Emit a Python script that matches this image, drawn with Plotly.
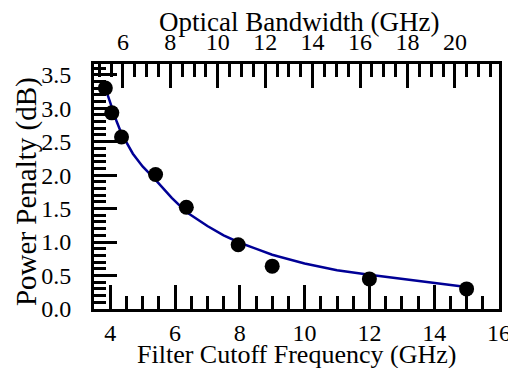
import plotly.graph_objects as go

# Measured data points
cutoff_ghz = [3.85, 4.05, 4.35, 5.4, 6.35, 7.95, 9.0, 12.0, 15.0]
penalty_db = [3.30, 2.93, 2.57, 2.01, 1.52, 0.96, 0.64, 0.45, 0.30]

# Fitted curve
fit_x = [3.85, 4.0, 4.2, 4.35, 4.7, 5.0, 5.4, 5.9, 6.35, 7.0, 7.5, 8.0, 9.0, 10.0, 11.0, 12.0, 13.0, 14.0, 15.0]
fit_y = [3.30, 3.08, 2.80, 2.62, 2.32, 2.13, 1.93, 1.66, 1.45, 1.24, 1.10, 0.99, 0.81, 0.68, 0.58, 0.51, 0.45, 0.38, 0.33]

bottom_ticks = [4, 6, 8, 10, 12, 14, 16]
top_ticks = [6, 8, 10, 12, 14, 16, 18, 20]
y_ticks = [0.0, 0.5, 1.0, 1.5, 2.0, 2.5, 3.0, 3.5]

FONT = "Liberation Serif, Times New Roman, DejaVu Serif, serif"
TICK_SIZE = 24

fig = go.Figure()
fig.add_trace(go.Scatter(x=fit_x, y=fit_y, mode="lines",
                         line=dict(color="rgb(0,0,150)", width=2.5),
                         showlegend=False, hoverinfo="skip"))
fig.add_trace(go.Scatter(x=cutoff_ghz, y=penalty_db, mode="markers",
                         marker=dict(color="black", size=15),
                         showlegend=False))
# invisible trace to activate top axis
fig.add_trace(go.Scatter(x=[10], y=[1], xaxis="x2", mode="markers",
                         marker=dict(opacity=0), showlegend=False, hoverinfo="skip"))

axis_common = dict(showgrid=False, zeroline=False, showline=True, linecolor="black",
                   linewidth=3, ticks="inside", tickcolor="black", tickwidth=2.5,
                   ticklen=24, automargin=False,
                   tickfont=dict(family=FONT, size=TICK_SIZE, color="black"))

# page body has an 8px default margin, so the figure is sized to fit the window
fig.update_layout(
    width=508, height=360,
    margin=dict(l=86, r=17, t=56, b=59),
    paper_bgcolor="white", plot_bgcolor="white",
    font=dict(family=FONT),
    xaxis=dict(**axis_common, range=[3.5, 16], tickvals=bottom_ticks,
               ticktext=[str(v) for v in bottom_ticks],
               minor=dict(dtick=0.5, tick0=4, ticks="inside", ticklen=13,
                          tickwidth=2.5, tickcolor="black"),
               ticklabelstandoff=0),
    xaxis2=dict(**axis_common, range=[4.78, 21.86], overlaying="x", side="top",
                tickvals=top_ticks, ticktext=[str(v) for v in top_ticks],
                minor=dict(dtick=0.5, tick0=6, ticks="inside", ticklen=13,
                           tickwidth=2.5, tickcolor="black"),
                ticklabelstandoff=1),
    yaxis=dict(**axis_common, range=[0, 3.66], tickvals=y_ticks,
               ticktext=[f"{v:.1f}" for v in y_ticks], mirror=True,
               minor=dict(dtick=0.1, tick0=0, ticks="inside", ticklen=12,
                          tickwidth=2.5, tickcolor="black"),
               ticklabelstandoff=15),
    annotations=[
        dict(text="Filter Cutoff Frequency (GHz)", xref="paper", yref="paper",
             x=0.5, y=-0.186, xanchor="center", yanchor="middle",
             showarrow=False, font=dict(family=FONT, size=26, color="black")),
        dict(text="Optical Bandwidth (GHz)", xref="paper", yref="paper",
             x=0.505, y=1.171, xanchor="center", yanchor="middle",
             showarrow=False, font=dict(family=FONT, size=27, color="black")),
        dict(text="Power Penalty (dB)", xref="paper", yref="paper",
             x=-0.165, y=0.478, xanchor="center", yanchor="middle", textangle=-90,
             showarrow=False, font=dict(family=FONT, size=29, color="black")),
    ],
)
fig.update_yaxes(ticklen=23)

fig.write_html("out.html")
